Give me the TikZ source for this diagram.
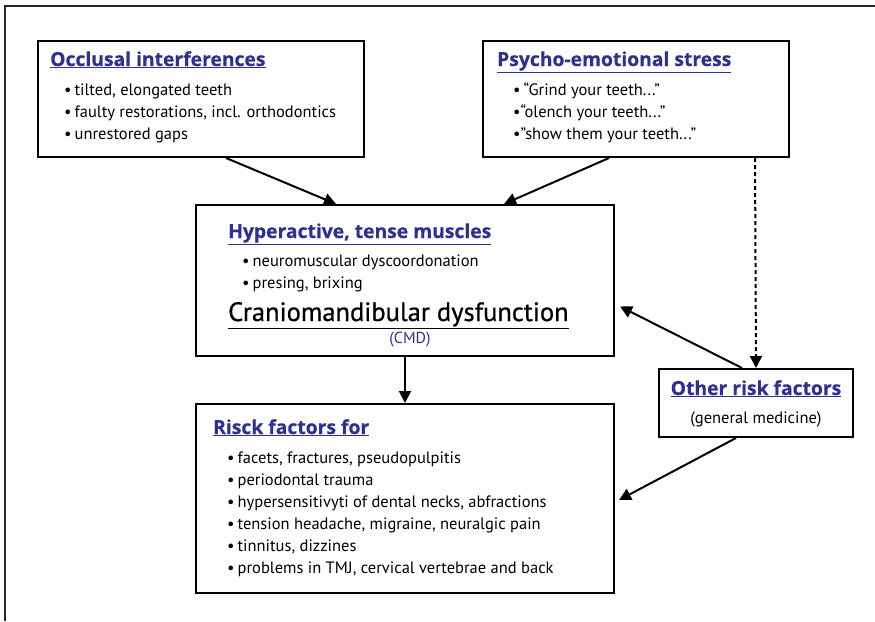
\documentclass[tikz,border=0pt]{standalone}
\usepackage{fontspec}
\setmainfont{PT Sans}
\newfontfamily\headfont[BoldFeatures={FakeBold=0.6}]{Open Sans}
\newfontfamily\cmdfont{PT Sans}[FakeBold=0.7]
\usetikzlibrary{arrows.meta,calc}
\definecolor{hblue}{RGB}{46,49,146}
\tikzset{
  box/.style={draw=black,line width=2pt,fill=white,inner sep=0pt},
  head/.style={anchor=base west,inner sep=0pt,font=\headfont\fontsize{19.3}{21}\selectfont\bfseries,text=hblue},
  item/.style={anchor=base west,inner sep=0pt,font=\fontsize{16.5}{18}\selectfont},
  conn/.style={line width=2pt,-{Triangle[length=12pt,width=12pt]}},
}
\newcommand{\ul}[1]{\underline{#1}}
\newcommand{\bul}{•\kern3pt}
\begin{document}
\begin{tikzpicture}[x=1pt,y=-1pt]
\useasboundingbox (0,0) rectangle (875,621);
\draw[line width=1.8pt,draw=black!85] (5,621) -- (5,6) -- (875,6);
% boxes
\node[box,minimum width=326pt,minimum height=116pt] (b1) at (201,99) {};
\node[box,minimum width=306pt,minimum height=116pt] (b2) at (636,99) {};
\node[box,minimum width=418pt,minimum height=151pt] (b3) at (405,280.5) {};
\node[box,minimum width=194pt,minimum height=68pt] (b4) at (756,403) {};
\node[box,minimum width=418pt,minimum height=189pt] (b5) at (405,498.5) {};
% box 1
\node[head] (t1) at (50,66) {\ul{Occlusal interferences}};
\node[item] (i11) at (64,95) {\bul tilted, elongated teeth};
\node[item] (i12) at (64,117) {\bul faulty restorations, incl. orthodontics};
\node[item] (i13) at (64,139) {\bul unrestored gaps};
% box 2
\node[head] (t2) at (497,66) {\ul{Psycho-emotional stress}};
\node[item] (i21) at (513,95) {\bul “Grind your teeth...”};
\node[item] (i22) at (513,117) {•“olench your teeth...”};
\node[item] (i23) at (513,139) {•”show them your teeth...”};
% box 3
\node[head] (t3) at (228,238) {\ul{Hyperactive, tense muscles}};
\node[item] (i31) at (242,266) {\bul neuromuscular dyscoordonation};
\node[item] (i32) at (242,288) {\bul presing, brixing};
\node[anchor=base west,inner sep=0pt,font=\cmdfont\fontsize{26.5}{28}\selectfont] (t3b) at (228,321) {\ul{Craniomandibular dysfunction}};
\node[anchor=base,inner sep=0pt,font=\fontsize{16}{17}\selectfont,text=hblue] (t3c) at (410,343) {(CMD)};
% box 4
\node[head,anchor=base] (t4) at (756,395) {\ul{Other risk factors}};
\node[item,anchor=base] (i41) at (756,423) {(general medicine)};
% box 5
\node[head] (t5) at (213,434) {\ul{Risck factors for}};
\node[item] (i51) at (227,463) {\bul facets, fractures, pseudopulpitis};
\node[item] (i52) at (227,485) {\bul periodontal trauma};
\node[item] (i53) at (227,507) {\bul hypersensitivyti of dental necks, abfractions};
\node[item] (i54) at (227,529) {\bul tension headache, migraine, neuralgic pain};
\node[item] (i55) at (227,551) {\bul tinnitus, dizzines};
\node[item] (i56) at (227,573) {\bul problems in TMJ, cervical vertebrae and back};
% connectors
\draw[conn] ([xshift=189pt]b1.south west) -- ([xshift=141pt]b3.north west);
\draw[conn] ([xshift=127pt]b2.south west) -- ([xshift=309pt]b3.north west);
\draw[line width=2pt,dash pattern=on 4pt off 3pt,-{Triangle[length=12pt,width=12pt]}] ([xshift=273pt]b2.south west) -- ([xshift=98pt]b4.north west);
\draw[conn] ([xshift=84pt]b4.north west) -- ($(b3.east)+(5pt,-26pt)$);
\draw[conn] ([xshift=78pt]b4.south west) -- ($(b5.east)+(4pt,-1.5pt)$);
\draw[conn] ([xshift=210pt]b3.south west) -- ([xshift=210pt]b5.north west);
\end{tikzpicture}
\end{document}
